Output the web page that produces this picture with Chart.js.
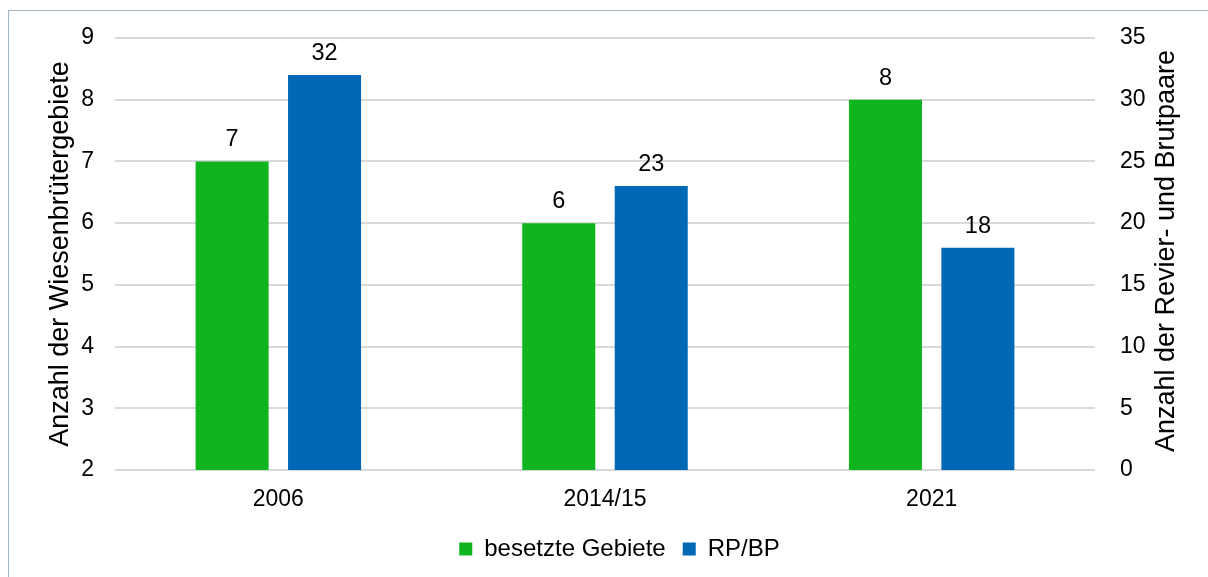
<!DOCTYPE html>
<html>
<head>
<meta charset="utf-8">
<script src="https://cdn.jsdelivr.net/npm/chart.js@4/dist/chart.umd.min.js"></script>
<style>
  html, body { margin: 0; padding: 0; background: #fff; overflow: hidden; }
  #wrap { position: relative; width: 1208px; height: 577px; }
  #frame { position: absolute; left: 8px; top: 10px; width: 1220px; height: 600px;
           border: 1px solid #a3b6c6; pointer-events: none; }
</style>
</head>
<body>
<div id="wrap">
  <canvas id="chart" width="1208" height="577"></canvas>
  <div id="frame"></div>
</div>
<script>
// Daten
const categories = ['2006', '2014/15', '2021'];
const gebiete = [7, 6, 8];      // linke Achse
const paare = [32, 23, 18];     // rechte Achse
const leftTicks = [2, 3, 4, 5, 6, 7, 8, 9];
const rightTicks = [0, 5, 10, 15, 20, 25, 30, 35];
const rightTitle = 'Anzahl der Revier- und Brutpaare';

const FONT = "'Liberation Sans', Arial, sans-serif";
const TICK_SIZE = 23;
const TITLE_SIZE = 27;

// Werte über den Balken + rechter Achsentitel (von unten nach oben gelesen)
const extras = {
    id: 'extras',
    afterDatasetsDraw(chart) {
        const ctx = chart.ctx;
        ctx.save();
        ctx.font = '23.5px ' + FONT;
        ctx.fillStyle = '#000';
        ctx.textAlign = 'center';
        ctx.textBaseline = 'alphabetic';
        chart.data.datasets.forEach((ds, i) => {
            chart.getDatasetMeta(i).data.forEach((bar, j) => {
                ctx.fillText(ds.data[j], bar.x, bar.y - 15);
            });
        });
        ctx.restore();
    },
    afterDraw(chart) {
        const ctx = chart.ctx;
        const area = chart.chartArea;
        ctx.save();
        ctx.translate(1167, (area.top + area.bottom) / 2 - 3);
        ctx.rotate(-Math.PI / 2);
        ctx.font = TITLE_SIZE + 'px ' + FONT;
        ctx.fillStyle = '#000';
        ctx.textAlign = 'center';
        ctx.textBaseline = 'middle';
        ctx.fillText(rightTitle, 0, 0);
        ctx.restore();
    }
};

new Chart(document.getElementById('chart'), {
    type: 'bar',
    data: {
        labels: categories,
        datasets: [
            { label: 'besetzte Gebiete', data: gebiete, backgroundColor: '#0fb41e', yAxisID: 'y' },
            { label: 'RP/BP', data: paare, backgroundColor: '#0068b4', yAxisID: 'y1' }
        ]
    },
    options: {
        responsive: false,
        animation: false,
        layout: { padding: { top: 38, left: 31, right: 0, bottom: 6 } },
        datasets: { bar: { categoryPercentage: 0.566, barPercentage: 0.79 } },
        plugins: {
            legend: {
                position: 'bottom',
                labels: {
                    font: { family: FONT, size: 24 }, color: '#000',
                    boxWidth: 13, boxHeight: 13, padding: 17
                }
            },
            tooltip: { enabled: false }
        },
        scales: {
            x: {
                grid: { display: false },
                border: { display: false },
                afterFit: s => { s.height = 50; },
                ticks: { font: { family: FONT, size: TICK_SIZE }, color: '#000', padding: 8 }
            },
            y: {
                position: 'left',
                min: 2, max: 9,
                afterBuildTicks: s => { s.ticks = leftTicks.map(v => ({ value: v })); },
                afterFit: s => { s.width = 84; },
                grid: { color: '#d9d9d9', lineWidth: 2, drawTicks: false },
                border: { display: false },
                ticks: { font: { family: FONT, size: TICK_SIZE }, color: '#000', padding: 21 },
                title: { display: true, text: 'Anzahl der Wiesenbrütergebiete',
                         font: { family: FONT, size: TITLE_SIZE }, color: '#000',
                         padding: { top: 13, bottom: 0 } }
            },
            y1: {
                position: 'right',
                min: 0, max: 35,
                afterBuildTicks: s => { s.ticks = rightTicks.map(v => ({ value: v })); },
                afterFit: s => { s.width = 113; },
                grid: { display: false },
                border: { display: false },
                ticks: { font: { family: FONT, size: TICK_SIZE }, color: '#000', padding: 17 }
            }
        }
    },
    plugins: [extras]
});
</script>
</body>
</html>
